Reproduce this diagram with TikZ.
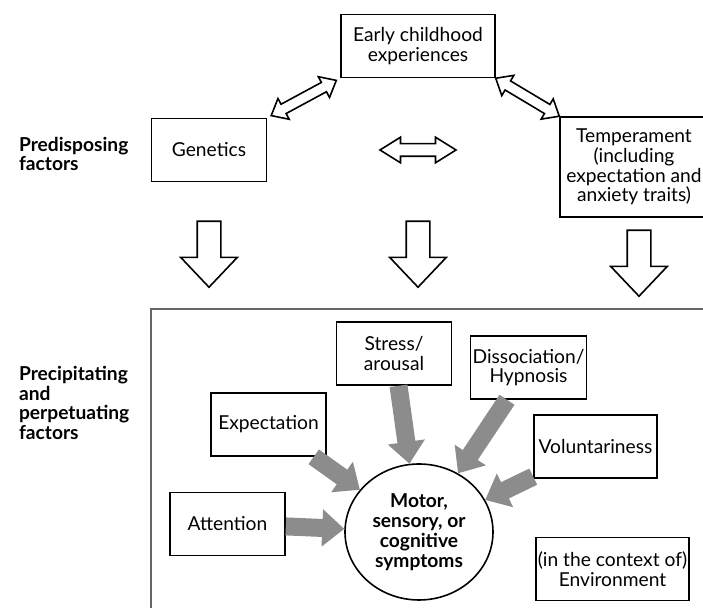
\documentclass[tikz,border=0pt]{standalone}
\usepackage{fontspec}
\setmainfont{Lato}
\usetikzlibrary{arrows.meta, shapes.arrows, shapes.geometric}

\begin{document}
\begin{tikzpicture}[x=0.5pt, y=-0.5pt,
    every node/.style={font=\fontsize{9.6}{9.8}\selectfont},
    box/.style={draw, thick, align=center, inner sep=1pt, minimum width=57.5pt, minimum height=31.5pt},
    sidetext/.style={anchor=west, align=left, font=\fontsize{9.6}{9.8}\selectfont\bfseries},
    hollowdiag/.style={double arrow, draw, thick, fill=white, inner xsep=0pt, inner ysep=2.25pt,
        double arrow head extend=3.25pt, double arrow tip angle=80, minimum height=37pt},
    hollowmid/.style={double arrow, draw, thick, fill=white, inner xsep=0pt, inner ysep=2.75pt,
        double arrow head extend=3.25pt, double arrow tip angle=64, minimum height=38pt},
    downarrow/.style={single arrow, draw, thick, fill=white, rotate=-90, inner xsep=0pt, inner ysep=5.5pt,
        single arrow head extend=8.25pt, single arrow tip angle=87, minimum height=33pt},
    feeds/.style={draw=black!45, line width=9pt, -{Triangle[length=11pt, width=18pt]}}
]
    \useasboundingbox (0,0) rectangle (703,608);
    \clip (0,0) rectangle (703,608);

    \node[sidetext] (predisp) at (12, 154) {Predisposing\\factors};
    \node[sidetext] (precip) at (12, 403) {Precipitating\\and\\perpetuating\\factors};

    \node[box, minimum width=77pt] (early) at (418, 46) {Early childhood\\experiences};
    \node[box] (gen) at (209, 150) {Genetics};
    \node[box, minimum width=74pt, minimum height=50pt] (temp) at (634, 167)
        {Temperament\\(including\\expectation and\\anxiety traits)};

    \path (gen.north east) -- node[hollowdiag, sloped] (genearly) {} (early.south west);
    \path (early.south east) -- node[hollowdiag, sloped] (earlytemp) {} (temp.north west);
    \node[hollowmid] (gentemp) at (gen -| early) {};

    \node[downarrow] (down1) at (209, 248) {};
    \node[downarrow] (down2) at (418, 248) {};
    \node[downarrow] (down3) at (639, 257) {};

    \node[draw=black!60, line width=1pt, minimum width=284pt, minimum height=155pt] (frame) at (435, 464) {};

    \node[box] (stress) at (394, 353.5) {Stress/\\arousal};
    \node[box] (dissoc) at (528.5, 367.5) {Dissociation/\\Hypnosis};
    \node[box] (expect) at (268.5, 424.5) {Expectation};
    \node[box, minimum width=61.5pt] (volunt) at (595.5, 446.5) {Voluntariness};
    \node[box] (attn) at (227.5, 524) {Attention};
    \node[box, minimum width=76.5pt] (env) at (612.5, 569) {(in the context of)\\Environment};
    \node[ellipse, draw, thick, inner sep=0pt, minimum width=74pt, minimum height=68pt, align=center,
        font=\fontsize{9.6}{10}\selectfont\bfseries] (sym) at (419, 532)
        {Motor,\\sensory, or\\cognitive\\symptoms};

    \draw[feeds] (attn) -- (sym);
    \draw[feeds] (expect) -- (sym);
    \draw[feeds] (stress) -- (sym);
    \draw[feeds] (dissoc) -- (sym);
    \draw[feeds] (volunt) -- (sym);
\end{tikzpicture}
\end{document}
